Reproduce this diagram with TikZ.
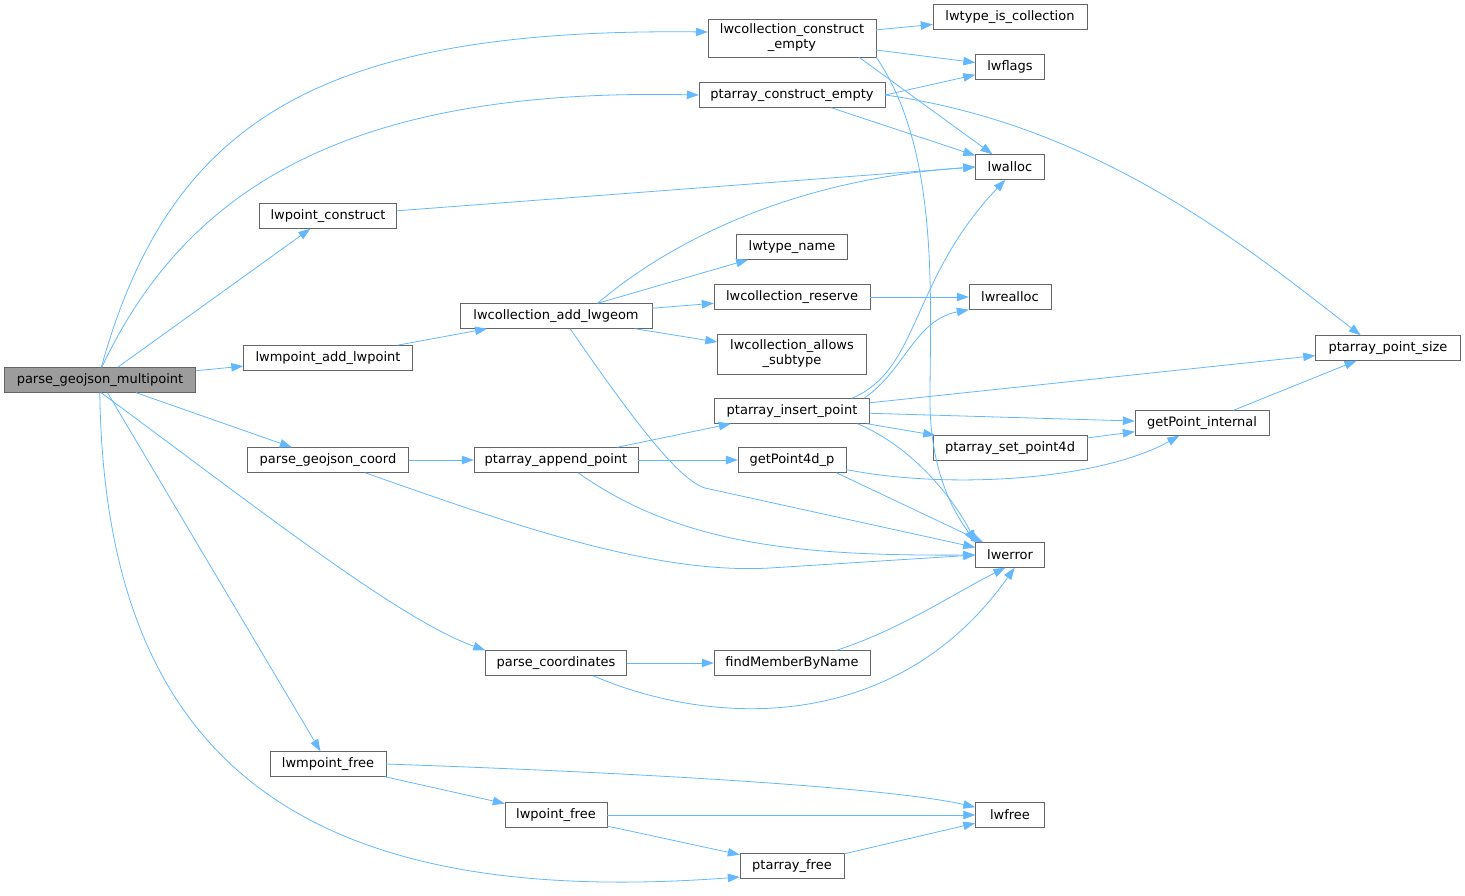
\documentclass[tikz,border=0pt]{standalone}
\usepackage{fontspec}
\setmainfont{DejaVu Sans}
\usetikzlibrary{arrows.meta}
\definecolor{edgeblue}{HTML}{63B8FF}
\definecolor{boxgray}{HTML}{666666}
\begin{document}
\begin{tikzpicture}[x=1pt,y=-1pt,
  fn/.style={draw=boxgray,fill=white,inner sep=0pt,minimum height=25,font=\fontsize{13}{15}\selectfont,align=center},
  call/.style={draw=edgeblue,line width=0.8pt,-{Triangle[length=12pt,width=8.5pt]}}]
  \useasboundingbox (0,0) rectangle (1465,896);
  % callees, left to right
  \node[fn,fill=boxgray!65,minimum width=191] (pgm) at (100,380) {parse\_geojson\_multipoint};
  \node[fn,minimum width=137] (lpc) at (328,216) {lwpoint\_construct};
  \node[fn,minimum width=169] (lmal) at (328,358) {lwmpoint\_add\_lwpoint};
  \node[fn,minimum width=161] (pgc) at (328,460) {parse\_geojson\_coord};
  \node[fn,minimum width=116] (lmpf) at (328,764) {lwmpoint\_free};
  \node[fn,minimum width=192] (lcal) at (556,316) {lwcollection\_add\_lwgeom};
  \node[fn,minimum width=164] (pap) at (556,460) {ptarray\_append\_point};
  \node[fn,minimum width=141] (pco) at (556,663) {parse\_coordinates};
  \node[fn,minimum width=102] (lpf) at (556,815) {lwpoint\_free};
  \node[fn,minimum width=168,minimum height=38] (lcce) at (792,38) {lwcollection\_construct\\\_empty};
  \node[fn,minimum width=186] (pce) at (792,95) {ptarray\_construct\_empty};
  \node[fn,minimum width=111] (ltn) at (792,247) {lwtype\_name};
  \node[fn,minimum width=156] (lcr) at (792,297) {lwcollection\_reserve};
  \node[fn,minimum width=149,minimum height=40] (lcas) at (792,354) {lwcollection\_allows\\\_subtype};
  \node[fn,minimum width=155] (pip) at (792,411) {ptarray\_insert\_point};
  \node[fn,minimum width=108] (gp4) at (792,460) {getPoint4d\_p};
  \node[fn,minimum width=156] (fmn) at (792,663) {findMemberByName};
  \node[fn,minimum width=104] (paf) at (792,866) {ptarray\_free};
  \node[fn,minimum width=154] (ltic) at (1010,17) {lwtype\_is\_collection};
  \node[fn,minimum width=69] (lfl) at (1010,67) {lwflags};
  \node[fn,minimum width=69] (lal) at (1010,167) {lwalloc};
  \node[fn,minimum width=82] (lra) at (1010,297) {lwrealloc};
  \node[fn,minimum width=154] (ps4) at (1010,448) {ptarray\_set\_point4d};
  \node[fn,minimum width=69] (ler) at (1010,555) {lwerror};
  \node[fn,minimum width=69] (lfr) at (1010,815) {lwfree};
  \node[fn,minimum width=134] (gpi) at (1202,423) {getPoint\_internal};
  \node[fn,minimum width=145] (pps) at (1388,348) {ptarray\_point\_size};
  % calls from the root
  \draw[call] (pgm.84) .. controls (170,120) and (320,28) .. (lcce.west |- 0,32);
  \draw[call] (pgm.82) .. controls (190,180) and (360,88) .. (pce.west);
  \draw[call] (pgm) -- (lpc);
  \draw[call] (pgm) -- (lmal);
  \draw[call] (pgm) -- (pgc);
  \draw[call] (pgm.-85) .. controls (260,510) and (400,620) .. (pco.north west);
  \draw[call] (pgm) -- (lmpf);
  \draw[call] (pgm.-91) .. controls (105,760) and (300,910) .. (paf.west |- 0,877);
  % second level
  \draw[call] (lcce) -- (ltic);
  \draw[call] (lcce.east |- 0,50) -- (lfl);
  \draw[call] (lcce.-16) -- (lal);
  \draw[call] (lcce.south east) .. controls (940,150) and (930,300) .. (930,400) .. controls (930,480) and (960,520) .. (ler.north west);
  \draw[call] (pce.east) -- (lfl);
  \draw[call] (pce.-18) -- (lal);
  \draw[call] (pce.east) .. controls (1100,125) and (1250,250) .. (pps.155);
  \draw[call] (lpc) -- (lal.west);
  \draw[call] (lmal) -- (lcal);
  \draw[call] (lcal.17) .. controls (660,250) and (780,180) .. (lal.west);
  \draw[call] (lcal.17) -- (ltn);
  \draw[call] (lcal) -- (lcr);
  \draw[call] (lcal) -- (lcas);
  \draw[call] (lcal.-42) .. controls (640,430) and (680,480) .. (705,488) -- (ler);
  \draw[call] (lcr) -- (lra);
  \draw[call] (pip.12) .. controls (920,370) and (910,280) .. (lal.-110);
  \draw[call] (pip.10) .. controls (905,370) and (915,320) .. (lra.south west);
  \draw[call] (pip) -- (pps);
  \draw[call] (pip) -- (gpi);
  \draw[call] (pip) -- (ps4);
  \draw[call] (pip.-11) .. controls (920,450) and (960,510) .. (ler.north west);
  \draw[call] (gpi) -- (pps);
  \draw[call] (ps4) -- (gpi);
  \draw[call] (pgc) -- (pap);
  \draw[call] (pgc.-19) .. controls (500,520) and (650,575) .. (770,568) -- (ler.west);
  \draw[call] (pap) -- (pip);
  \draw[call] (pap) -- (gp4);
  \draw[call] (pap.-30) .. controls (680,545) and (800,556) .. (ler.west);
  \draw[call] (gp4.-10) .. controls (950,490) and (1100,480) .. (gpi);
  \draw[call] (gp4.-16) -- (ler);
  \draw[call] (pco) -- (fmn);
  \draw[call] (pco.-19) .. controls (720,730) and (900,730) .. (ler.-70);
  \draw[call] (fmn.16) .. controls (900,630) and (960,590) .. (ler.-110);
  \draw[call] (lmpf.east) .. controls (700,775) and (900,790) .. (lfr);
  \draw[call] (lmpf) -- (lpf);
  \draw[call] (lpf) -- (lfr);
  \draw[call] (lpf) -- (paf);
  \draw[call] (paf) -- (lfr);
\end{tikzpicture}
\end{document}
